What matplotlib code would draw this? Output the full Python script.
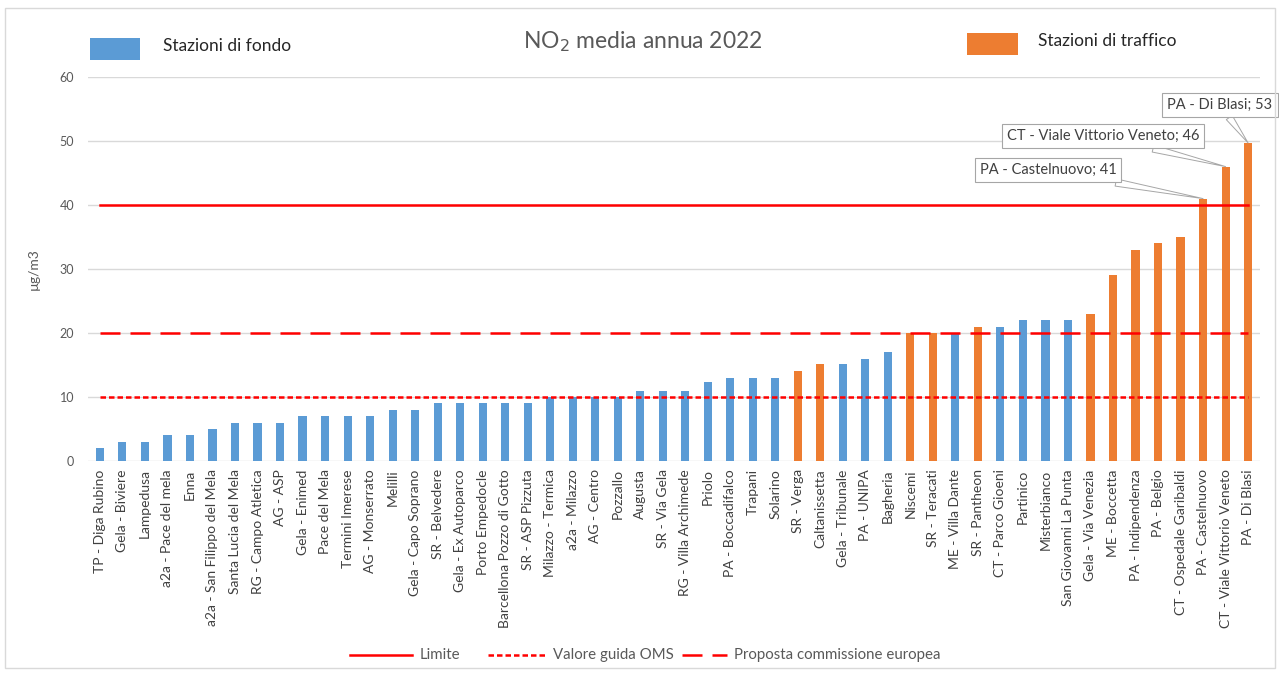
import matplotlib
matplotlib.use("Agg")
import matplotlib.pyplot as plt
from matplotlib.lines import Line2D
from matplotlib.patches import Rectangle

plt.rcParams['font.family'] = ['Lato', 'DejaVu Sans']

stations = [
    "TP - Diga Rubino", "Gela - Biviere", "Lampedusa", "a2a - Pace del mela", "Enna",
    "a2a - San Filippo del Mela", "Santa Lucia del Mela", "RG - Campo Atletica", "AG - ASP",
    "Gela - Enimed", "Pace del Mela", "Termini Imerese", "AG - Monserrato", "Melilli",
    "Gela - Capo Soprano", "SR - Belvedere", "Gela - Ex Autoparco", "Porto Empedocle",
    "Barcellona Pozzo di Gotto", "SR - ASP Pizzuta", "Milazzo - Termica", "a2a - Milazzo",
    "AG - Centro", "Pozzallo", "Augusta", "SR - Via Gela", "RG - Villa Archimede", "Priolo",
    "PA - Boccadifalco", "Trapani", "Solarino", "SR - Verga", "Caltanissetta",
    "Gela - Tribunale", "PA - UNIPA", "Bagheria", "Niscemi", "SR - Teracati",
    "ME - Villa Dante", "SR - Pantheon", "CT - Parco Gioeni", "Partinico", "Misterbianco",
    "San Giovanni La Punta", "Gela - Via Venezia", "ME - Boccetta", "PA - Indipendenza",
    "PA - Belgio", "CT - Ospedale Garibaldi", "PA - Castelnuovo", "CT - Viale Vittorio Veneto",
    "PA - Di Blasi",
]
values = [
    2, 3, 3, 4, 4, 5, 6, 6, 6, 7, 7, 7, 7, 8, 8, 9, 9, 9, 9, 9, 10, 10, 10, 10, 11, 11, 11,
    12.3, 13, 13, 13, 14, 15.2, 15.2, 16, 17, 20, 20, 20, 21, 21, 22, 22, 22, 23, 29, 33,
    34, 35, 41, 46, 49.7,
]
# 'F' = stazione di fondo, 'T' = stazione di traffico
station_type = [
    'F', 'F', 'F', 'F', 'F', 'F', 'F', 'F', 'F', 'F', 'F', 'F', 'F', 'F', 'F', 'F', 'F', 'F',
    'F', 'F', 'F', 'F', 'F', 'F', 'F', 'F', 'F', 'F', 'F', 'F', 'F', 'T', 'T', 'F', 'F', 'F',
    'T', 'T', 'F', 'T', 'F', 'F', 'F', 'F', 'T', 'T', 'T', 'T', 'T', 'T', 'T', 'T',
]
limite = 40
oms = 10
proposta_ue = 20
callout_idx = [49, 50, 51]
callout_text = ["PA - Castelnuovo; 41", "CT - Viale Vittorio Veneto; 46", "PA - Di Blasi; 53"]

BLUE = "#5B9BD5"
ORANGE = "#ED7D31"
RED = "#FF0000"
GRAY = "#595959"

W, H = 1279, 675
fig = plt.figure(figsize=(W / 100, H / 100), dpi=100)
ax = fig.add_axes([88 / W, 1 - 461 / H, (1260 - 88) / W, (461 - 77) / H])

x = list(range(len(stations)))
colors = [BLUE if t == 'F' else ORANGE for t in station_type]
ax.bar(x, values, width=0.36, color=colors, zorder=3)

n = len(stations)
ax.plot([0, n - 1], [limite, limite], color=RED, lw=1.8, zorder=4)
ax.plot([0, n - 1], [oms, oms], color=RED, lw=1.8, dashes=(2.2, 1.2), zorder=4)
ax.plot([0, n - 1], [proposta_ue, proposta_ue], color=RED, lw=1.8, dashes=(8, 4), zorder=4)

ax.set_xlim(-0.53, n - 1 + 0.53)
ax.set_ylim(0, 60)
ax.set_yticks(range(0, 61, 10))
ax.yaxis.grid(True, color="#d9d9d9", lw=1, zorder=0)
for s in ax.spines.values():
    s.set_visible(False)
ax.tick_params(axis='both', length=0, colors=GRAY)
ax.tick_params(axis='y', labelsize=9, pad=10)
ax.set_xticks(x)
ax.set_xticklabels(stations, rotation=90, fontsize=10, color="#404040")
ax.tick_params(axis='x', pad=6)
ax.set_ylabel("µg/m3", fontsize=10, color=GRAY, labelpad=14)

# callouts
for idx, txt, (cx, cy) in zip(callout_idx, callout_text, [(1048, 170), (1103, 136), (1220, 105)]):
    ax.annotate(txt, xy=(idx, values[idx]), xytext=(cx, H - cy), textcoords='figure pixels',
                ha='center', va='center', fontsize=10.5, color="#404040", zorder=6,
                bbox=dict(boxstyle='square,pad=0.35', fc='white', ec='#a6a6a6', lw=0.8),
                arrowprops=dict(arrowstyle='wedge,tail_width=0.5,shrink_factor=0.5',
                                fc='white', ec='#a6a6a6', lw=0.7,
                                shrinkA=0, shrinkB=0))

# title
fig.text(643 / W, 1 - 42 / H, r"NO$_2$ media annua 2022", ha='center', va='center',
         fontsize=16.5, color=GRAY)

# top legend boxes
fig.add_artist(Rectangle((90 / W, 1 - 60 / H), 50 / W, 22 / H, transform=fig.transFigure,
                         fc=BLUE, ec='none'))
fig.text(163 / W, 1 - 46 / H, "Stazioni di fondo", ha='left', va='center', fontsize=12.5,
         color="#262626")
fig.add_artist(Rectangle((967 / W, 1 - 55 / H), 51 / W, 22 / H, transform=fig.transFigure,
                         fc=ORANGE, ec='none'))
fig.text(1038 / W, 1 - 41 / H, "Stazioni di traffico", ha='left', va='center', fontsize=12.5,
         color="#262626")

# bottom legend
ly = 1 - 655 / H
fig.add_artist(Line2D([350 / W, 412 / W], [ly, ly], transform=fig.transFigure, color=RED, lw=1.8))
fig.text(420 / W, ly, "Limite", ha='left', va='center', fontsize=10.8, color=GRAY)
fig.add_artist(Line2D([488 / W, 546 / W], [ly, ly], transform=fig.transFigure, color=RED, lw=1.8,
                      dashes=(2.2, 1.2)))
fig.text(553 / W, ly, "Valore guida OMS", ha='left', va='center', fontsize=10.8, color=GRAY)
fig.add_artist(Line2D([682 / W, 727 / W], [ly, ly], transform=fig.transFigure, color=RED, lw=1.8,
                      dashes=(8, 4)))
fig.text(734 / W, ly, "Proposta commissione europea", ha='left', va='center', fontsize=10.8,
         color=GRAY)

# chart border
fig.add_artist(Rectangle((5 / W, 1 - 668 / H), 1270 / W, 660 / H, transform=fig.transFigure,
                         fc='none', ec='#d9d9d9', lw=1))

fig.savefig("out.png", dpi=100, facecolor='white')
